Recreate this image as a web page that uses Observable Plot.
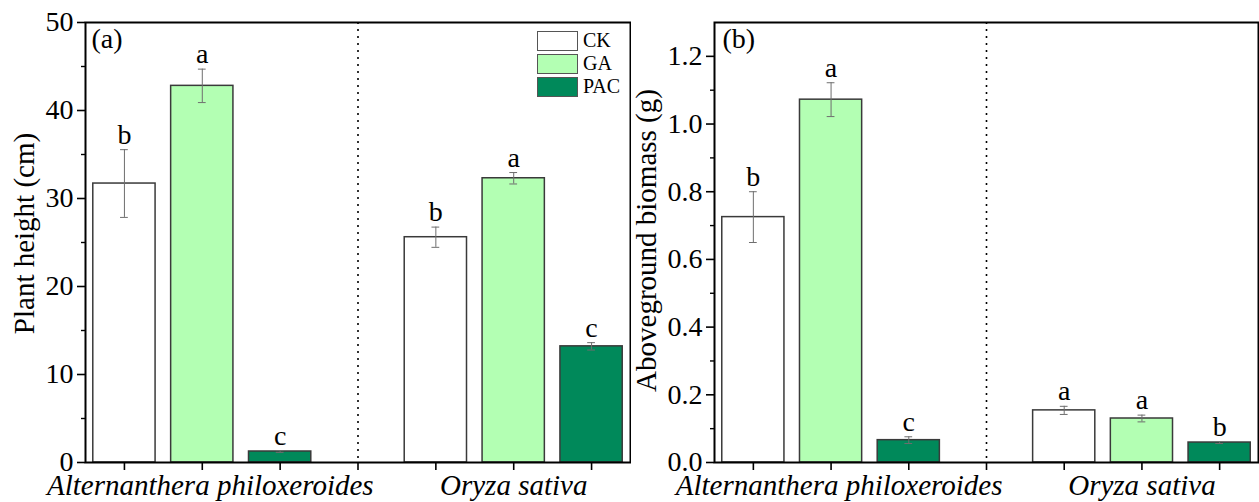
<!DOCTYPE html>
<html>
<head>
<meta charset="utf-8">
<script src="https://cdn.jsdelivr.net/npm/d3@7"></script>
<script src="https://cdn.jsdelivr.net/npm/@observablehq/plot@0.6"></script>
<style>
  html, body { margin: 0; padding: 0; background: #fff; }
  #wrap { position: relative; width: 1259px; height: 502px; display: flex; }
  #wrap svg { overflow: visible; max-width: none; }
  #legend { position: absolute; left: 537px; top: 29px; font-family: "Liberation Serif", serif; font-size: 20px; color: #000; }
  #legend .row { display: flex; align-items: center; height: 23px; }
  #legend .sw { width: 39px; height: 18px; border: 1.5px solid #555; margin-right: 5px; }
</style>
</head>
<body>
<div id="wrap"></div>
<script>
// ---- data ----
const groups = ["Alternanthera philoxeroides", "Oryza sativa"];
const treatments = ["CK", "GA", "PAC"];
const colors = ["#ffffff", "#b3ffb3", "#00895a"];

const heightMean = [31.7, 42.8, 1.25, 25.6, 32.3, 13.2];
const heightErr = [3.85, 1.9, 0.1, 1.15, 0.65, 0.42];
const heightLetters = ["b", "a", "c", "b", "a", "c"];
const heightTicks = [0, 10, 20, 30, 40, 50];
const heightMinor = [5, 15, 25, 35, 45];

const biomassMean = [0.725, 1.072, 0.066, 0.154, 0.130, 0.059];
const biomassErr = [0.075, 0.05, 0.01, 0.012, 0.01, 0.003];
const biomassLetters = ["b", "a", "c", "a", "a", "b"];
const biomassTicks = [0, 0.2, 0.4, 0.6, 0.8, 1.0, 1.2];
const biomassMinor = [0.1, 0.3, 0.5, 0.7, 0.9, 1.1];

// ---- layout helpers ----
const slot = treatments.length + 1; // one empty slot between groups
function table(means, errs, letters) {
  const rows = [];
  groups.forEach((g, gi) => treatments.forEach((t, ti) => {
    const i = gi * treatments.length + ti;
    rows.push({group: g, treatment: t, pos: gi * slot + ti + 1, value: means[i], err: errs[i], letter: letters[i]});
  }));
  return rows;
}
const allTicks = d3.range(1, groups.length * slot);
const groupCenters = groups.map((g, gi) => ({group: g, pos: gi * slot + (treatments.length + 1) / 2}));
const divider = [slot];

const FONT = "Liberation Serif, Times New Roman, serif";

function panel({data, yDomain, ticks, minor, fmt, label, tag, width, marginLeft, labelDx, labelDy, tagDx}) {
  const half = 0.4, cap = 0.05;
  const groupText = (rows, dx) => Plot.text(rows, {x: "pos", text: "group", frameAnchor: "bottom", lineAnchor: "bottom", dy: 32, dx,
    fontStyle: "italic", fontSize: 29, fill: "#000"});
  return Plot.plot({
    width, height: 502,
    marginLeft, marginRight: 1, marginTop: 22, marginBottom: 40,
    style: {fontFamily: FONT, fontSize: "28px", color: "#000", background: "#fff", overflow: "visible"},
    x: {domain: [0.5, groups.length * slot - 0.5]},
    y: {domain: yDomain, label: null},
    color: {domain: treatments, range: colors},
    marks: [
      Plot.ruleX(divider, {stroke: "#000", strokeWidth: 1.6, strokeDasharray: "2,5"}),
      Plot.rectY(data, {x1: d => d.pos - half, x2: d => d.pos + half, y: "value", fill: "treatment", stroke: "#3a3a3a", strokeWidth: 1.5}),
      Plot.ruleX(data, {x: "pos", y1: d => d.value - d.err, y2: d => d.value + d.err, stroke: "#6e6e6e", strokeWidth: 1}),
      Plot.ruleY(data, {y: d => d.value + d.err, x1: d => d.pos - cap, x2: d => d.pos + cap, stroke: "#6e6e6e", strokeWidth: 1}),
      Plot.ruleY(data, {y: d => d.value - d.err, x1: d => d.pos - cap, x2: d => d.pos + cap, stroke: "#6e6e6e", strokeWidth: 1}),
      Plot.text(data, {x: "pos", y: d => d.value + d.err, text: "letter", dy: -6, lineAnchor: "bottom", fontSize: 28, fill: "#000"}),
      Plot.frame({stroke: "#000", strokeWidth: 2}),
      Plot.axisY({ticks, tickFormat: fmt, tickSize: 8, tickPadding: 4, strokeWidth: 1.6, label: null, fontSize: 28}),
      Plot.axisY({ticks: minor, tickFormat: () => "", tickSize: 4, strokeWidth: 1.4, label: null}),
      Plot.axisX({ticks: allTicks, tickFormat: () => "", tickSize: 8, strokeWidth: 1.6, label: null}),
      groupText(groupCenters.slice(0, 1), 8),
      groupText(groupCenters.slice(1), 0),
      Plot.text([label], {frameAnchor: "left", rotate: -90, textAnchor: "middle", lineAnchor: "bottom", dx: labelDx, dy: labelDy, fontSize: 29, fill: "#000"}),
      Plot.text([tag], {frameAnchor: "top-left", textAnchor: "start", lineAnchor: "bottom", dx: tagDx, dy: 25, fontSize: 28, fill: "#000"})
    ]
  });
}

const wrap = document.getElementById("wrap");
wrap.appendChild(panel({
  data: table(heightMean, heightErr, heightLetters),
  yDomain: [0, 50], ticks: heightTicks, minor: heightMinor, fmt: d3.format("d"),
  label: "Plant height (cm)", tag: "(a)", width: 631, marginLeft: 85, labelDx: -52, labelDy: -9, tagDx: 6
}));
wrap.appendChild(panel({
  data: table(biomassMean, biomassErr, biomassLetters),
  yDomain: [0, 1.3], ticks: biomassTicks, minor: biomassMinor, fmt: d3.format(".1f"),
  label: "Aboveground biomass (g)", tag: "(b)", width: 628, marginLeft: 83, labelDx: -59, labelDy: -2, tagDx: 8
}));

// legend (inside panel a, top right)
const legend = document.createElement("div");
legend.id = "legend";
treatments.forEach((t, i) => {
  const row = document.createElement("div");
  row.className = "row";
  const sw = document.createElement("div");
  sw.className = "sw";
  sw.style.background = colors[i];
  const lab = document.createElement("span");
  lab.textContent = t;
  row.appendChild(sw);
  row.appendChild(lab);
  legend.appendChild(row);
});
wrap.appendChild(legend);
</script>
</body>
</html>
